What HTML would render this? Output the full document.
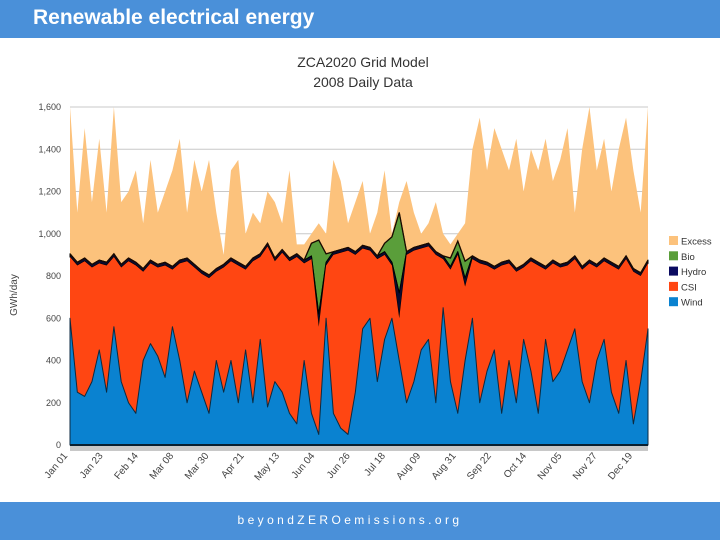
<!DOCTYPE html>
<html><head><meta charset="utf-8">
<style>
body{margin:0;width:720px;height:540px;overflow:hidden;background:#fff;font-family:"Liberation Sans",sans-serif}
#hdr{position:absolute;left:0;top:0;width:720px;height:38px;background:#4a90d9}
#hdr span{position:absolute;left:33px;top:6px;color:#fff;font-weight:bold;font-size:21px}
#ftr{position:absolute;left:0;top:502px;width:720px;height:38px;background:#4a90d9}
#ftr span{position:absolute;left:0;width:700px;text-align:center;top:11px;color:#fff;font-size:12px;letter-spacing:3.4px}
svg{position:absolute;left:0;top:0}
</style></head><body>
<div id="hdr"><span>Renewable electrical energy</span></div>
<svg id="chart" width="720" height="540"></svg>
<div id="ftr"><span>beyondZEROemissions.org</span></div>
<script>
const yTicks=[0,200,400,600,800,1000,1200,1400,1600];
const yTickLabels=["0","200","400","600","800","1,000","1,200","1,400","1,600"];
const xLabels=["Jan 01","Jan 23","Feb 14","Mar 08","Mar 30","Apr 21","May 13","Jun 04","Jun 26","Jul 18","Aug 09","Aug 31","Sep 22","Oct 14","Nov 05","Nov 27","Dec 19"];
const wind=[600,250,230,300,450,250,560,300,200,150,400,480,420,320,560,400,200,350,250,150,400,250,400,200,450,200,500,180,300,250,150,100,400,150,50,600,150,80,50,250,550,600,300,500,600,400,200,300,450,500,200,650,300,150,400,600,200,350,450,150,400,200,500,350,150,500,300,350,450,550,300,200,400,500,250,150,400,100,300,550];
const csiTop=[890,850,870,840,860,850,890,840,870,850,820,860,840,850,830,860,870,840,810,790,820,840,870,850,830,870,890,940,870,910,870,890,860,880,560,850,900,910,920,900,930,920,880,900,850,600,900,920,930,940,900,880,830,900,750,880,860,850,830,850,860,820,840,870,850,830,860,840,850,880,830,860,840,870,850,830,880,820,800,860];
const hydro=[15,15,15,15,15,15,15,15,15,15,15,15,15,15,15,15,15,15,15,15,15,15,15,15,15,15,15,15,15,15,15,15,15,15,60,15,15,15,15,15,15,15,15,15,15,120,15,15,15,15,15,15,15,15,40,15,15,15,15,15,15,15,15,15,15,15,15,15,15,15,15,15,15,15,15,15,15,15,15,15];
const bio=[0,0,0,0,0,0,0,0,0,0,0,0,0,0,0,0,0,0,0,0,0,0,0,0,0,0,0,0,0,0,0,0,0,60,350,40,0,0,0,0,0,0,0,40,120,380,0,0,0,0,0,0,40,50,80,0,0,0,0,0,0,0,0,0,0,0,0,0,0,0,0,0,0,0,0,0,0,0,0,0];
const excessTop=[1600,1100,1500,1150,1450,1100,1600,1150,1200,1300,1050,1350,1100,1200,1300,1450,1100,1350,1200,1350,1100,900,1300,1350,1000,1100,1050,1200,1150,1050,1300,950,950,1000,1050,1000,1350,1250,1050,1150,1250,1000,1100,1300,1000,1150,1250,1100,1000,1050,1150,1000,950,1000,1050,1400,1550,1300,1500,1400,1300,1450,1200,1400,1300,1450,1250,1350,1500,1100,1400,1600,1300,1450,1200,1400,1550,1300,1100,1600];
const NS="http://www.w3.org/2000/svg";
const svg=document.getElementById('chart');
const X0=70,X1=648,Y0=445,Y1=107;
const xs=i=>X0+i*(X1-X0)/(wind.length-1);
const ys=v=>Y0-v*(Y0-Y1)/1600;
function mk(t,a,p){const e=document.createElementNS(NS,t);for(const k in a)e.setAttribute(k,a[k]);(p||svg).appendChild(e);return e;}
yTicks.forEach((v,i)=>{
 const g=mk('line',{x1:X0,x2:X1,y1:ys(v),y2:ys(v),stroke:'#c8c8c8','stroke-width':1});
 
 
 const t=mk('text',{x:61,y:ys(v)+3,'text-anchor':'end','font-size':9,fill:'#444'});
 t.textContent=yTickLabels[i];
 
 
});
function area(lower,upper,fill,name,stroke){
 let d='M'+xs(0)+','+ys(upper[0]);
 for(let i=1;i<upper.length;i++)d+='L'+xs(i)+','+ys(upper[i]);
 for(let i=lower.length-1;i>=0;i--)d+='L'+xs(i)+','+ys(lower[i]);
 const p=mk('path',{d:d+'Z',fill:fill,stroke:stroke||'none','stroke-width':stroke?1:0,'stroke-linejoin':'round'});
 
 
}
const zero=wind.map(()=>0);
const hTop=csiTop.map((v,i)=>v+hydro[i]);
const bTop=hTop.map((v,i)=>v+bio[i]);
const eTop=excessTop.map((v,i)=>Math.max(v,bTop[i]));
area(bTop,eTop,'#fcc27c','excess-area');
area(hTop,bTop,'#5a9e3a','bio-area','#1a3010');
area(csiTop,hTop,'#0a0a30','hydro-area','#000');
area(wind,csiTop,'#ff4612','csi-area');
area(zero,wind,'#0a82d0','wind-area','#0c2a40');
let d='M'+xs(0)+','+ys(bTop[0]);for(let i=1;i<bTop.length;i++)d+='L'+xs(i)+','+ys(bTop[i]);
const tl=mk('path',{d:d,fill:'none',stroke:'#1a0a00','stroke-width':1.3});


const ax=mk('rect',{x:X0,y:Y0-1,width:X1-X0,height:2,fill:'#0a2030'});


const tb=mk('rect',{x:X0,y:Y0+1,width:X1-X0,height:5,fill:'#c8c8c8'});


xLabels.forEach((s,i)=>{
 const x=68+i*35.3,y=456;
 const t=mk('text',{x:x,y:y,'text-anchor':'end','font-size':10,fill:'#444',transform:`rotate(-50 ${x} ${y})`});
 t.textContent=s;
 
 
});
const yt=mk('text',{x:17,y:295,'text-anchor':'middle','font-size':10,fill:'#444',transform:'rotate(-90 17 295)'});
yt.textContent='GWh/day';


const t1=mk('text',{x:363,y:67,'text-anchor':'middle','font-size':14,fill:'#333'});
t1.textContent='ZCA2020 Grid Model';


const t2=mk('text',{x:363,y:87,'text-anchor':'middle','font-size':14,fill:'#333'});
t2.textContent='2008 Daily Data';


const leg=[['Excess','#fcc27c'],['Bio','#5a9e3a'],['Hydro','#0a0a60'],['CSI','#ff4612'],['Wind','#0a82d0']];
leg.forEach((l,i)=>{
 const y=241+i*15.3;
 const r=mk('rect',{x:669,y:y-5,width:9,height:9,fill:l[1]});
 
 
 const t=mk('text',{x:681,y:y+3.5,'font-size':9.5,fill:'#333'});
 t.textContent=l[0];
 
 
});
</script>
</body></html>
